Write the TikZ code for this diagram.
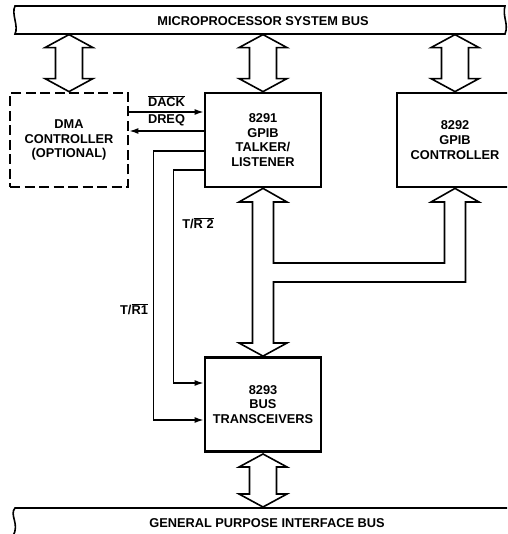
\documentclass[tikz,border=0pt]{standalone}
\usepackage{fontspec}
\setmainfont{Liberation Sans}
\usetikzlibrary{arrows.meta,calc}

\tikzset{
  blk/.style={draw, line width=2.8pt, minimum width=116pt, minimum height=94pt, align=center},
  optblk/.style={blk, minimum width=118pt, dash pattern=on 10pt off 4.5pt},
  sig/.style={line width=1.4pt},
  busline/.style={line width=1.6pt, line join=miter},
  lbl/.style={font=\fontsize{12.8}{14.8}\selectfont\bfseries},
  pics/busarrow/.style={code={
    \draw[busline] (0,0) -- (24,-13) -- (13.5,-13) -- (13.5,-#1+13)
      -- (24,-#1+13) -- (0,-#1) -- (-24,-#1+13) -- (-13.5,-#1+13)
      -- (-13.5,-13) -- (-24,-13) -- cycle;
  }}
}

\begin{document}
\begin{tikzpicture}[x=1pt, y=-1pt, every node/.append style={lbl}, >={Latex[length=9pt,width=6pt]}]
\useasboundingbox (0,0) rectangle (507,534);
\clip (0,0) rectangle (507,534);

% Microprocessor system bus
\draw[busline] (15,6) -- (505,6) .. controls (502,16) and (509,24) .. (505,34)
  -- (15,34) .. controls (19,26) and (11,14) .. (15,6) -- cycle;
\node (sysbus) at (263,21) {MICROPROCESSOR SYSTEM BUS};

% The blocks
\node[optblk] (dma) at (69,140) {DMA\\CONTROLLER\\(OPTIONAL)};
\node[blk] (tl) at (263,140) {8291\\GPIB\\TALKER/\\LISTENER};
\node[blk] (ctl) at (455,140) {8292\\GPIB\\CONTROLLER};
\node[blk] (xcv) at (263,404.5) {8293\\BUS\\TRANSCEIVERS};

% Bus arrows down from the system bus
\pic at (dma.north) {busarrow=57};
\pic at (tl.north) {busarrow=57};
\pic at (ctl.north) {busarrow=57};

% DMA handshake
\draw[sig,->] ([yshift=28pt]dma.east) -- node[above=1pt] {$\overline{\mbox{DACK}}$} ([yshift=28pt]tl.west);
\draw[sig,->] ([yshift=9pt]tl.west) -- node[above=1pt] {DREQ} ([yshift=9pt]dma.east);

% Transmit/receive lines to the transceivers
\draw[sig,->] ([yshift=-11pt]tl.west) -- ++(-50,0) |- ([yshift=-15.5pt]xcv.west);
\draw[sig,->] ([yshift=-30pt]tl.west) -- ++(-30,0) |- ([yshift=21.5pt]xcv.west);
\node (tr1) at (134,309) {T/$\overline{\mbox{R1}}$};
\node (tr2) at (198,223) {T/$\overline{\mbox{R 2}}$};

% Shared data bus 8291 / 8292 / 8293
\draw[busline] (tl.south) -- (287,202) -- (273.5,202) -- (273.5,263) -- (444.5,263)
  -- (444.5,202) -- (431,202) -- (ctl.south) -- (479,202) -- (465.5,202)
  -- (465.5,282) -- (273.5,282) -- (273.5,343) -- (287,343) -- (xcv.north)
  -- (239,343) -- (252.5,343) -- (252.5,202) -- (239,202) -- cycle;

% General purpose interface bus
\coordinate (gpibtop) at (263,507);
\pic at (gpibtop) {busarrow=53};
\draw[busline] (515,508) -- (15,508) .. controls (9,515) and (20,524) .. (13,536);
\node (gpib) at (267,523) {GENERAL PURPOSE INTERFACE BUS};

\end{tikzpicture}
\end{document}
